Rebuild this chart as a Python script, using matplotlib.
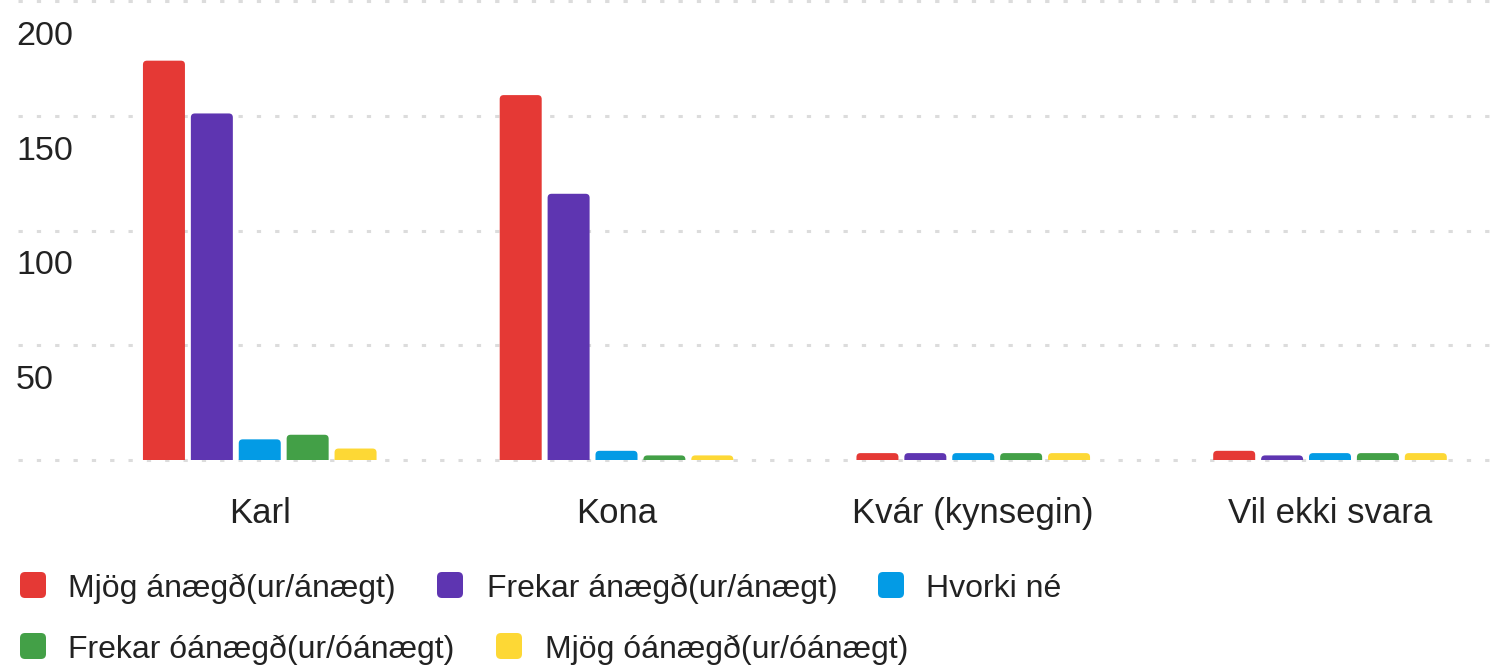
import matplotlib
matplotlib.use("Agg")
import matplotlib.pyplot as plt
from matplotlib.patches import FancyBboxPatch
from matplotlib.transforms import ScaledTranslation
import numpy as np

plt.rcParams['font.family'] = ['Liberation Sans', 'DejaVu Sans']

# data
categories = ['Karl', 'Kona', 'Kvár (kynsegin)', 'Vil ekki svara']
series_names = ['Mjög ánægð(ur/ánægt)', 'Frekar ánægð(ur/ánægt)', 'Hvorki né',
                'Frekar óánægð(ur/óánægt)', 'Mjög óánægð(ur/óánægt)']
mjog_anaegd = [174, 159, 3, 4]
frekar_anaegd = [151, 116, 3, 2]
hvorki_ne = [9, 4, 3, 3]
frekar_oanaegd = [11, 2, 3, 3]
mjog_oanaegd = [5, 2, 3, 3]
y_ticks = [50, 100, 150, 200]

series = [mjog_anaegd, frekar_anaegd, hvorki_ne, frekar_oanaegd, mjog_oanaegd]
colors = ['#E53935', '#5E35B1', '#039BE5', '#43A047', '#FDD835']
text_color = '#222222'

W, H = 1491, 668
fig = plt.figure(figsize=(W / 100, H / 100), dpi=100)
ax = fig.add_axes([18 / W, 208 / H, 1473 / W, 459 / H])

group_px = 356.75
ax.set_xlim((18 - 259.75) / group_px, (1491 - 259.75) / group_px)
ax.set_ylim(0, 200)

bar_w = 42 / group_px
pitch = 47.9 / group_px
x = np.arange(len(categories))

# rounded corner size: ~4 px in each direction
rx = 4 / group_px
ry = 4 / 2.295
for i, vals in enumerate(series):
    offs = (i - 2) * pitch
    bars = ax.bar(x + offs, vals, width=bar_w, color=colors[i], zorder=3)
    for b in bars:
        b.set_visible(False)
        p = FancyBboxPatch((b.get_x(), -ry), b.get_width(), b.get_height() + ry,
                           boxstyle="round,pad=0,rounding_size=%f" % rx,
                           mutation_aspect=ry / rx, fc=colors[i], ec='none',
                           zorder=3)
        ax.add_patch(p)

# dotted grid lines
for v in [0] + y_ticks:
    ax.axhline(v, color='#dcdcdc', lw=2.2, dashes=(1.4, 4.6), zorder=1,
               clip_on=False)

# y labels sit below their grid line, inside the plot
off_y = ScaledTranslation(0, -0.44, fig.dpi_scale_trans)
for v in y_ticks:
    ax.text(-2 / 1473, v, str(v), transform=ax.get_yaxis_transform() + off_y,
            ha='left', va='baseline', fontsize=24.5, color=text_color)

# category labels
off_x = ScaledTranslation(0, -0.63, fig.dpi_scale_trans)
for xi, c in zip(x, categories):
    ax.text(xi, 0, c, transform=ax.get_xaxis_transform() + off_x,
            ha='center', va='baseline', fontsize=25, color=text_color)

ax.set_xticks([])
ax.set_yticks([])
for s in ax.spines.values():
    s.set_visible(False)
ax.patch.set_alpha(0)

# legend laid out like the original (flowing rows)
legend_pos = [(20, 585, 68), (437, 585, 487), (878, 585, 926),
              (20, 646, 68), (496, 646, 545)]
for (mx, cy, tx), name, col in zip(legend_pos, series_names, colors):
    sq = FancyBboxPatch((mx / 100, (H - cy - 13) / 100), 0.26, 0.26,
                        boxstyle="round,pad=0,rounding_size=0.05",
                        transform=fig.dpi_scale_trans, fc=col, ec='none')
    fig.patches.append(sq)
    fig.text(tx / 100, (H - cy - 11.7) / 100, name, transform=fig.dpi_scale_trans,
             ha='left', va='baseline', fontsize=23, color=text_color)

fig.savefig('out.png', dpi=100, facecolor='white')
